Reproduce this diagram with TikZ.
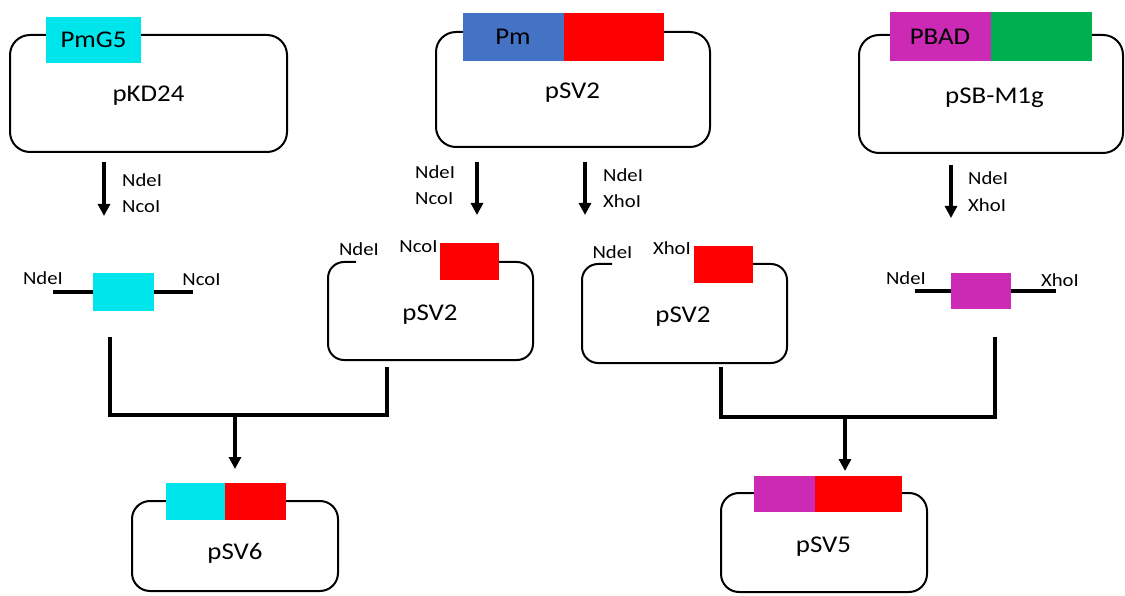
\documentclass[tikz,border=0pt]{standalone}
\usepackage{fontspec}
\setmainfont{Carlito}[FakeStretch=1.12]
\usetikzlibrary{arrows.meta}
\definecolor{gcyan}{RGB}{0,228,236}
\definecolor{gblue}{RGB}{68,114,196}
\definecolor{gred}{RGB}{255,0,0}
\definecolor{gmag}{RGB}{204,41,181}
\definecolor{ggreen}{RGB}{0,176,80}
\newcommand\lblbig{\fontsize{24}{28}\selectfont}
\newcommand\lblsmall{\fontsize{18.5}{22}\selectfont}
\begin{document}
\begin{tikzpicture}[x=1pt,y=-1pt,
  plasmid/.style={draw=black,line width=2pt,fill=white,inner sep=0pt,rounded corners=#1},
  plasmid/.default=20pt,
  boxline/.style={draw=black,line width=2pt,rounded corners=16pt},
  gene/.style={draw=none,inner sep=0pt,outer sep=0pt,fill=#1},
  big/.style={inner sep=0pt,anchor=base,font=\lblbig},
  small/.style={inner sep=0pt,anchor=base,font=\lblsmall},
  smallw/.style={inner sep=0pt,anchor=base west,font=\lblsmall},
  arr/.style={line width=3.4pt,-{Triangle[width=12pt,length=12pt]}},
  merge/.style={line width=4pt,line join=miter},
  frag/.style={line width=4pt}]
\useasboundingbox (0,0) rectangle (1125,596);

% ---------- top row ----------
\node[plasmid,minimum width=277pt,minimum height=117pt] (b1) at (148.5,93.5) {};
\node[gene=gcyan,minimum width=95pt,minimum height=46pt] (g1) at (93.5,40) {};
\node[big] (t1) at (93.5,48) {PmG5};
\node[big] (t2) at (148.5,102) {pKD24};

\node[plasmid,minimum width=274pt,minimum height=115pt] (b2) at (573,89.5) {};
\node[gene=gblue,minimum width=101pt,minimum height=48pt] (g2) at (513.5,37) {};
\node[gene=gred,minimum width=100pt,minimum height=48pt] (g3) at (614,37) {};
\node[big] (t3) at (513,45) {Pm};
\node[big] (t4) at (572.5,99) {pSV2};

\node[plasmid,minimum width=264pt,minimum height=118pt] (b3) at (991,94) {};
\node[gene=gmag,minimum width=101pt,minimum height=49pt] (g4) at (940.5,36.5) {};
\node[gene=ggreen,minimum width=101pt,minimum height=49pt] (g5) at (1041.5,36.5) {};
\node[big] (t5) at (940,45) {PBAD};
\node[big] (t6) at (994.5,104) {pSB-M1g};

% ---------- digestion arrows ----------
\coordinate (a1s) at (104,162); \coordinate (a1e) at (104,216);
\coordinate (a2s) at (477,162); \coordinate (a2e) at (477,215);
\coordinate (a3s) at (585,162); \coordinate (a3e) at (585,215);
\coordinate (a4s) at (951,165); \coordinate (a4e) at (951,218);
\draw[arr] (a1s) -- (a1e);
\draw[arr] (a2s) -- (a2e);
\draw[arr] (a3s) -- (a3e);
\draw[arr] (a4s) -- (a4e);
\node[smallw] (l1) at (122,187) {NdeI};
\node[smallw] (l2) at (122,213) {NcoI};
\node[smallw] (l3) at (415,179) {NdeI};
\node[smallw] (l4) at (415,205) {NcoI};
\node[smallw] (l5) at (603,182) {NdeI};
\node[smallw] (l6) at (603,208) {XhoI};
\node[smallw] (l7) at (968,185) {NdeI};
\node[smallw] (l8) at (968,212) {XhoI};

% ---------- middle row ----------
% fragment 1
\coordinate (f1L) at (53,292); \coordinate (f1R) at (193,292);
\draw[frag] (f1L) -- (f1R);
\node[gene=gcyan,minimum width=61pt,minimum height=38pt] (fg1) at (123.5,292) {};
\node[small] (m1) at (43,285) {NdeI};
\node[small] (m2) at (201.5,286) {NcoI};

% cut pSV2 (NdeI/NcoI)
\coordinate (c1a) at (356,262); \coordinate (c1b) at (499,262);
\draw[boxline] (c1a) -- (328,262) -- (328,360) -- (533,360) -- (533,262) -- (c1b);
\node[gene=gred,minimum width=59pt,minimum height=37pt] (mr1) at (469.5,261.5) {};
\node[small] (m3) at (359,256) {NdeI};
\node[small] (m4) at (418.5,253) {NcoI};
\node[big] (m5) at (430,320) {pSV2};

% cut pSV2 (NdeI/XhoI)
\coordinate (c2a) at (612,264); \coordinate (c2b) at (753,264);
\draw[boxline] (c2a) -- (582,264) -- (582,363) -- (787,363) -- (787,264) -- (c2b);
\node[gene=gred,minimum width=59pt,minimum height=37pt] (mr2) at (723.5,264.5) {};
\node[small] (m6) at (612.5,259) {NdeI};
\node[small] (m7) at (672,255) {XhoI};
\node[big] (m8) at (683,322) {pSV2};

% fragment 2
\coordinate (f2L) at (915,291); \coordinate (f2R) at (1056,291);
\draw[frag] (f2L) -- (f2R);
\node[gene=gmag,minimum width=60pt,minimum height=36pt] (fg2) at (981,291) {};
\node[small] (m9) at (906,284) {NdeI};
\node[small] (m10) at (1060,287) {XhoI};

% ---------- ligation ----------
\coordinate (j1a) at (110,337); \coordinate (j1b) at (387,367); \coordinate (j1) at (235,415);
\coordinate (j1e) at (235,469);
\draw[merge] (j1a) |- (j1) -| (j1b);
\draw[arr] (j1) -- (j1e);

\coordinate (j2a) at (721,367); \coordinate (j2b) at (995,337); \coordinate (j2) at (845,417);
\coordinate (j2e) at (845,471);
\draw[merge] (j2a) |- (j2) -| (j2b);
\draw[arr] (j2) -- (j2e);

% ---------- products ----------
\node[plasmid=18pt,minimum width=206pt,minimum height=90pt] (b6) at (235,546) {};
\node[gene=gcyan,minimum width=59pt,minimum height=37pt] (p6a) at (195.5,501.5) {};
\node[gene=gred,minimum width=61pt,minimum height=37pt] (p6b) at (255.5,501.5) {};
\node[big] (t7) at (235,559) {pSV6};

\node[plasmid=18pt,minimum width=206pt,minimum height=99pt] (b5) at (824,542.5) {};
\node[gene=gmag,minimum width=61pt,minimum height=36pt] (p5a) at (784.5,494) {};
\node[gene=gred,minimum width=87pt,minimum height=36pt] (p5b) at (858.5,494) {};
\node[big] (t8) at (823.5,552) {pSV5};
\end{tikzpicture}
\end{document}
